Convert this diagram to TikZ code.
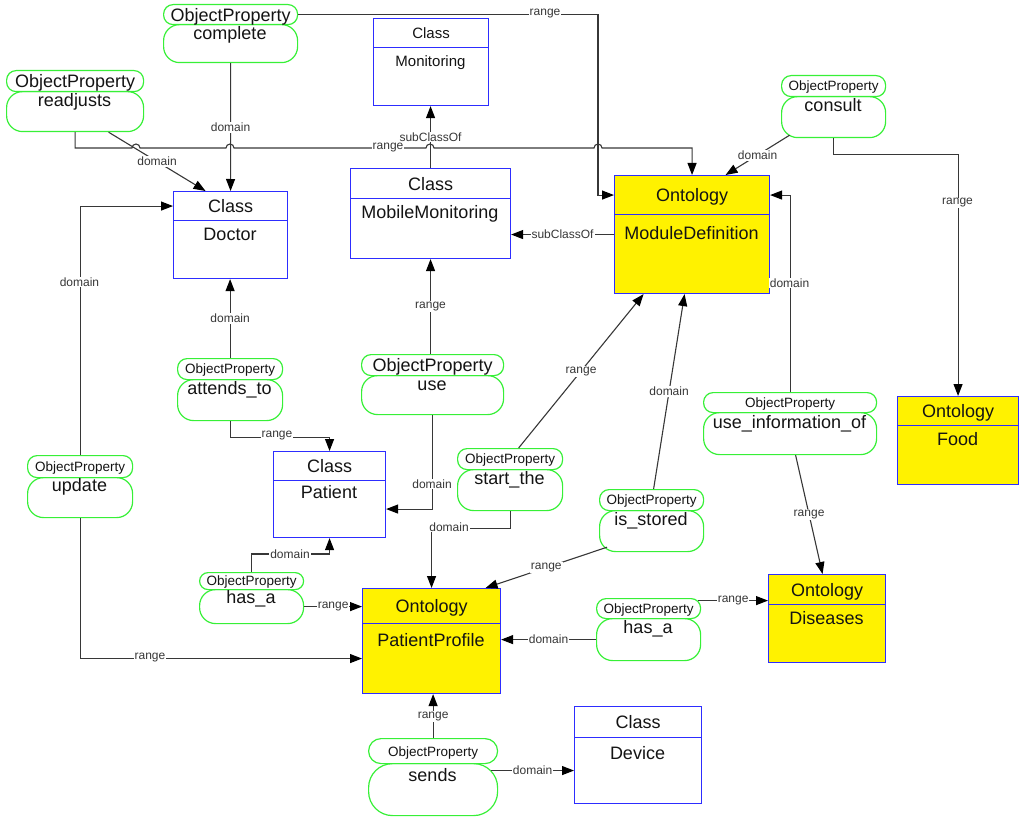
\documentclass[tikz,border=0pt]{standalone}
\usepackage{fontspec}
\setmainfont{Liberation Sans}
\usetikzlibrary{arrows.meta,calc}
\definecolor{opgreen}{RGB}{55,240,55}
\definecolor{boxblue}{RGB}{45,45,255}
\definecolor{lnc}{RGB}{55,55,55}
\definecolor{txt}{RGB}{20,20,20}
\newcommand{\fbig}{\fontsize{18}{20}\selectfont}
\newcommand{\fmid}{\fontsize{15}{17}\selectfont}
\newcommand{\fsmall}{\fontsize{13.5}{15}\selectfont}
\newcommand{\flab}{\fontsize{12}{13}\selectfont}
\begin{document}
\begin{tikzpicture}[x=1pt,y=-1pt,
 hbox/.style={draw=boxblue,line width=1.1pt,fill=white,inner sep=0pt,anchor=north west,font=\fbig,text=txt,text depth=0pt},
 ohbox/.style={hbox,fill=yellow},
 btext/.style={anchor=base,font=\fbig,text=txt,inner sep=0pt},
 optop/.style={draw=opgreen,line width=1.2pt,fill=white,inner sep=0pt,anchor=north west,rounded corners=9.5pt,font=\fsmall,text=txt,text depth=0pt},
 opbot/.style={draw=opgreen,line width=1.2pt,fill=white,inner sep=0pt,anchor=north west,rounded corners=16pt},
 arr/.style={draw=lnc,line width=1.1pt,-{Triangle[length=12pt,width=9pt,color=black,fill=black]}},
 el/.style={fill=white,font=\flab,text=lnc,inner sep=1pt}
]
\useasboundingbox (0,0) rectangle (1024,821);

% ---- class / ontology boxes ----
\node[hbox,font=\fmid,minimum width=115pt,minimum height=58pt] (monB) at (373,47) {};
\node[hbox,font=\fmid,minimum width=115pt,minimum height=29pt] (monH) at (373,18) {Class};
\node[btext,font=\fmid] (monT) at (430.5,66.4) {Monitoring};

\node[hbox,minimum width=114pt,minimum height=58pt] (docB) at (173,220) {};
\node[hbox,minimum width=114pt,minimum height=29pt] (docH) at (173,191) {Class};
\node[btext] (docT) at (230,240.5) {Doctor};

\node[hbox,minimum width=160pt,minimum height=60pt] (mmB) at (350,198) {};
\node[hbox,minimum width=160pt,minimum height=30pt] (mmH) at (350,168) {Class};
\node[btext] (mmT) at (430,218.5) {MobileMonitoring};

\node[hbox,minimum width=112pt,minimum height=57pt] (patB) at (273,480) {};
\node[hbox,minimum width=112pt,minimum height=29pt] (patH) at (273,451) {Class};
\node[btext] (patT) at (329,498.5) {Patient};

\node[hbox,minimum width=127pt,minimum height=66pt] (devB) at (574,737) {};
\node[hbox,minimum width=127pt,minimum height=31pt] (devH) at (574,706) {Class};
\node[btext] (devT) at (637.5,759.5) {Device};

\node[ohbox,minimum width=155pt,minimum height=79pt] (MDb) at (614,214) {};
\node[ohbox,minimum width=155pt,minimum height=39pt] (MDh) at (614,175) {Ontology};
\node[btext] (MDt) at (691.5,239.5) {ModuleDefinition};

\node[ohbox,minimum width=121pt,minimum height=59pt] (foodB) at (897,425) {};
\node[ohbox,minimum width=121pt,minimum height=29pt] (foodH) at (897,396) {Ontology};
\node[btext] (foodT) at (957.5,445.5) {Food};

\node[ohbox,minimum width=138pt,minimum height=70pt] (ppB) at (362,623) {};
\node[ohbox,minimum width=138pt,minimum height=35pt] (ppH) at (362,588) {Ontology};
\node[btext] (ppT) at (431,646.5) {PatientProfile};

\node[ohbox,minimum width=117pt,minimum height=58pt] (disB) at (768,604) {};
\node[ohbox,minimum width=117pt,minimum height=30pt] (disH) at (768,574) {Ontology};
\node[btext] (disT) at (826.5,624.5) {Diseases};

% ---- object properties ----
\node[opbot,minimum width=134pt,minimum height=38pt] (compB) at (163,24) {};
\node[optop,font=\fbig,minimum width=134pt,minimum height=20pt] (compT) at (163,4) {ObjectProperty};
\node[btext] (compN) at (230,39.5) {complete};

\node[opbot,minimum width=137pt,minimum height=40pt] (readB) at (6,91) {};
\node[optop,font=\fbig,minimum width=137pt,minimum height=21pt] (readT) at (6,70) {ObjectProperty};
\node[btext] (readN) at (74.5,106.5) {readjusts};

\node[opbot,minimum width=104pt,minimum height=41pt] (consB) at (781,96) {};
\node[optop,minimum width=104pt,minimum height=21pt] (consT) at (781,75) {ObjectProperty};
\node[btext] (consN) at (833,111.5) {consult};

\node[opbot,minimum width=105pt,minimum height=41pt] (atB) at (177,379) {};
\node[optop,minimum width=105pt,minimum height=21pt] (atT) at (177,358) {ObjectProperty};
\node[btext] (atN) at (229.5,394.5) {attends\_to};

\node[opbot,minimum width=105pt,minimum height=40pt] (upB) at (27,477) {};
\node[optop,minimum width=105pt,minimum height=22pt] (upT) at (27,455) {ObjectProperty};
\node[btext] (upN) at (79.5,491.5) {update};

\node[opbot,minimum width=142pt,minimum height=39pt] (useB) at (361,375) {};
\node[optop,font=\fbig,minimum width=142pt,minimum height=21pt] (useT) at (361,354) {ObjectProperty};
\node[btext] (useN) at (432,390.5) {use};

\node[opbot,minimum width=105pt,minimum height=41pt] (stB) at (457,469) {};
\node[optop,minimum width=105pt,minimum height=21pt] (stT) at (457,448) {ObjectProperty};
\node[btext] (stN) at (509.5,484.5) {start\_the};

\node[opbot,minimum width=104pt,minimum height=41pt] (isB) at (599,510) {};
\node[optop,minimum width=104pt,minimum height=21pt] (isT) at (599,489) {ObjectProperty};
\node[btext] (isN) at (651,525.5) {is\_stored};

\node[opbot,minimum width=173pt,minimum height=42pt] (uiB) at (703,412) {};
\node[optop,minimum width=173pt,minimum height=20pt] (uiT) at (703,392) {ObjectProperty};
\node[btext] (uiN) at (789.5,428.5) {use\_information\_of};

\node[opbot,minimum width=104pt,minimum height=34pt] (haLB) at (199,589) {};
\node[optop,rounded corners=8.5pt,minimum width=104pt,minimum height=17pt] (haLT) at (199,572) {ObjectProperty};
\node[btext] (haLN) at (251,603.5) {has\_a};

\node[opbot,minimum width=104pt,minimum height=42pt] (haRB) at (596,618) {};
\node[optop,minimum width=104pt,minimum height=20pt] (haRT) at (596,598) {ObjectProperty};
\node[btext] (haRN) at (648,633.5) {has\_a};

\node[opbot,rounded corners=24pt,minimum width=129pt,minimum height=52pt] (sB) at (368,763) {};
\node[optop,rounded corners=12.5pt,minimum width=129pt,minimum height=25pt] (sT) at (368,738) {ObjectProperty};
\node[btext] (sN) at (432.5,781.5) {sends};

% ---- connectors ----
\draw[arr] (readB.south) |- (132,148)
  arc[start angle=180,end angle=0,radius=4pt] -- (226,148)
  arc[start angle=180,end angle=0,radius=4pt] -- (426,148)
  arc[start angle=180,end angle=0,radius=4pt] -- (594,148)
  arc[start angle=180,end angle=0,radius=4pt] -| (MDh.north);
\node[el] (l4) at (388,148) {range};

\draw[arr] (compT.east) -| ($(MDh.west)+(-16,0)$) -- (MDh.west);
\node[el] (l1) at (545,14) {range};
\draw[arr] (compB.south) -- (docH.north) node[el,midway] (l2) {domain};
\draw[arr] ($(readB.south)+(33.5,0)$) -- ($(docH.north)+(-25,0)$) node[el,midway] (l3) {domain};
\draw[arr] (mmH.north) -- (mmH.north |- monB.south) node[el,midway] (l5) {subClassOf};
\draw[arr] ($(MDb.west)+(0,-19.5)$) -- ($(mmB.east |- MDb.west)+(0,-19.5)$) node[el,midway] (l6) {subClassOf};
\draw[arr] ($(consB.south)+(-44,-3)$) -- ($(MDh.north)+(33.5,0)$) node[el,midway] (l7) {domain};
\draw[arr] (consB.south) -- ++(0,16) -| (foodH.north);
\node[el] (l8) at (957.5,203) {range};
\draw[arr] (uiT.north) |- (MDh.east);
\node[el] (l9) at (789.5,283) {domain};
\draw[arr] ($(uiB.south)+(5.5,0)$) -- ($(disH.north)+(-4.5,0)$) node[el,midway] (l10) {range};
\draw[arr] (atT.north) -- (atT.north |- docB.south) node[el,midway] (l11) {domain};
\draw[arr] (atB.south) -- ++(0,16) -| (patH.north);
\node[el] (l12) at (277,436) {range};
\draw[arr] (mmB.south |- useT.north) -- (mmB.south) node[el,midway] (l13) {range};
\draw[arr] (useB.south) |- (patB.east);
\node[el] (l14) at (432,484) {domain};
\draw[arr] ($(stT.north)+(8.5,0)$) -- ($(MDb.south)+(-48.5,0)$) node[el,midway] (l15) {range};
\draw[arr] (stB.south) -- ++(0,17) -| (ppH.north);
\node[el] (l16) at (449,527) {domain};
\draw[arr] ($(isT.north)+(2,0)$) -- ($(MDb.south)+(-7.5,0)$) node[el,midway] (l17) {domain};
\draw[arr] ($(isB.south west)+(8,-5)$) -- ($(ppH.north)+(54,0)$) node[el,midway] (l18) {range};
\draw[arr] (haLT.north) -- ++(0,-18) -| (patB.south);
\node[el] (l19) at (290,554) {domain};
\draw[arr] (haLB.east) -- (haLB.east -| ppH.west) node[el,midway] (l20) {range};
\draw[arr] ($(haRT.east)+(-3,-8)$) -- ($(haRT.east -| disH.west)+(0,-8)$) node[el,midway] (l21) {range};
\draw[arr] (haRB.west) -- (haRB.west -| ppB.east) node[el,midway] (l22) {domain};
\draw[arr] (upT.north) |- (docH.west);
\node[el] (l23) at (79.5,282) {domain};
\draw[arr] (upB.south) |- (ppB.west);
\node[el] (l24) at (150,658) {range};
\draw[arr] (sT.north) -- (sT.north |- ppB.south) node[el,midway] (l25) {range};
\draw[arr] ($(sB.north east |- devB.west)+(-7,0)$) -- (devB.west) node[el,midway] (l26) {domain};
\end{tikzpicture}
\end{document}
